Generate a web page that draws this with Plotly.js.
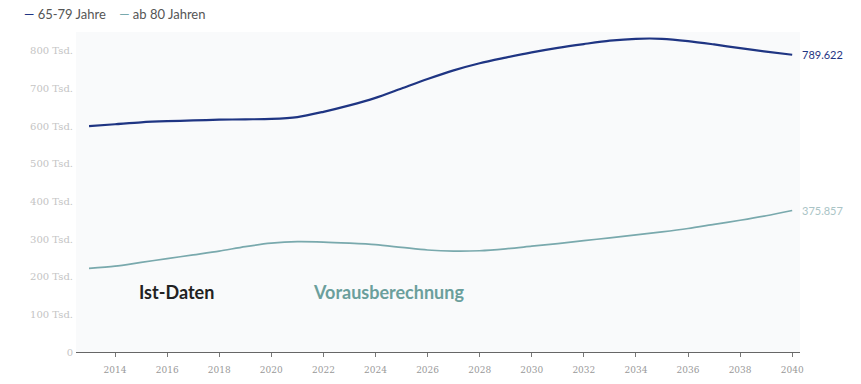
<!DOCTYPE html>
<html>
<head>
<meta charset="utf-8">
<script src="https://cdn.plot.ly/plotly-3.0.1.min.js"></script>
<style>html,body{margin:0;padding:0;background:#fff;}#chart{width:861px;height:384px;}</style>
</head>
<body>
<div id="chart"></div>
<script>
const years = [2013,2014,2015,2016,2017,2018,2019,2020,2021,2022,2023,2024,2025,2026,2027,2028,2029,2030,2031,2032,2033,2034,2035,2036,2037,2038,2039,2040];
const age65to79 = [600000,605000,610000,613000,615000,617000,618000,619000,624000,638000,655000,675000,700000,725000,748000,767000,782000,796000,808000,818000,827000,832000,832000,826000,817000,807000,798000,789622];
const age80plus = [222000,228000,238000,248000,258000,268000,280000,289000,293000,292000,289000,285000,278000,271000,268000,269000,274000,281000,288000,296000,303000,311000,319000,328000,339000,350000,362000,375857];
const seriesNames = ["65-79 Jahre","ab 80 Jahren"];
const endLabels = ["789.622","375.857"];
const yTickVals = [0,100000,200000,300000,400000,500000,600000,700000,800000];
const yTickText = ["0","100 Tsd.","200 Tsd.","300 Tsd.","400 Tsd.","500 Tsd.","600 Tsd.","700 Tsd.","800 Tsd."];
const xTickVals = [2014,2016,2018,2020,2022,2024,2026,2028,2030,2032,2034,2036,2038,2040];
const phaseLabels = ["Ist-Daten","Vorausberechnung"];

const c1 = "#1f3583";
const c2 = "#79a9ad";
const lastIdx = years.length - 1;

const traces = [
  {x: years, y: age65to79, type: "scatter", mode: "lines", name: seriesNames[0],
   line: {color: c1, width: 2.2, shape: "spline", smoothing: 0.8}, hoverinfo: "x+y"},
  {x: years, y: age80plus, type: "scatter", mode: "lines", name: seriesNames[1],
   line: {color: c2, width: 1.7, shape: "spline", smoothing: 0.8}, hoverinfo: "x+y"}
];

const layout = {
  width: 861, height: 384,
  margin: {l: 76, r: 61, t: 32, b: 32},
  paper_bgcolor: "#ffffff",
  plot_bgcolor: "#f9fafb",
  showlegend: false,
  font: {family: "Lato, 'Open Sans', sans-serif", color: "#555"},
  xaxis: {
    range: [2012.5, 2040.3],
    tickvals: xTickVals,
    ticks: "outside", ticklen: 4, tickcolor: "#777",
    showgrid: false, zeroline: false,
    showline: true, linecolor: "#666", linewidth: 1,
    ticklabelstandoff: 5,
    tickfont: {size: 9, color: "#999", family: "'DejaVu Serif', serif"}
  },
  yaxis: {
    range: [0, 850000],
    tickvals: yTickVals, ticktext: yTickText,
    showgrid: false, zeroline: false, showline: false,
    ticks: "", ticklabelstandoff: 2,
    tickfont: {size: 10, color: "#c4c4c4", family: "'DejaVu Serif', serif"}
  },
  annotations: [
    {xref: "paper", yref: "paper", x: -0.074, y: 1.057, xanchor: "left", yanchor: "middle", showarrow: false,
     text: "<span style='color:" + c1 + "'>—</span> " + seriesNames[0] + "    <span style='color:" + c2 + "'>—</span> " + seriesNames[1],
     font: {size: 13, color: "#555", family: "Lato, sans-serif"}},
    {x: years[lastIdx], y: age65to79[lastIdx], xanchor: "left", yanchor: "middle", xshift: 8, showarrow: false,
     text: endLabels[0], font: {size: 11, color: c1, family: "Lato, sans-serif"}},
    {x: years[lastIdx], y: age80plus[lastIdx], xanchor: "left", yanchor: "middle", xshift: 8, showarrow: false,
     text: endLabels[1], font: {size: 11, color: "#aac4c6", family: "Lato, sans-serif"}},
    {x: 2016.35, y: 160000, xanchor: "center", yanchor: "middle", showarrow: false,
     text: "<b>" + phaseLabels[0] + "</b>", font: {size: 18, color: "#222", family: "Lato, sans-serif"}},
    {x: 2024.5, y: 160000, xanchor: "center", yanchor: "middle", showarrow: false,
     text: "<b>" + phaseLabels[1] + "</b>", font: {size: 18, color: "#6b9f9c", family: "Lato, sans-serif"}}
  ]
};

Plotly.newPlot("chart", traces, layout, {displayModeBar: false, staticPlot: true});
</script>
</body>
</html>
